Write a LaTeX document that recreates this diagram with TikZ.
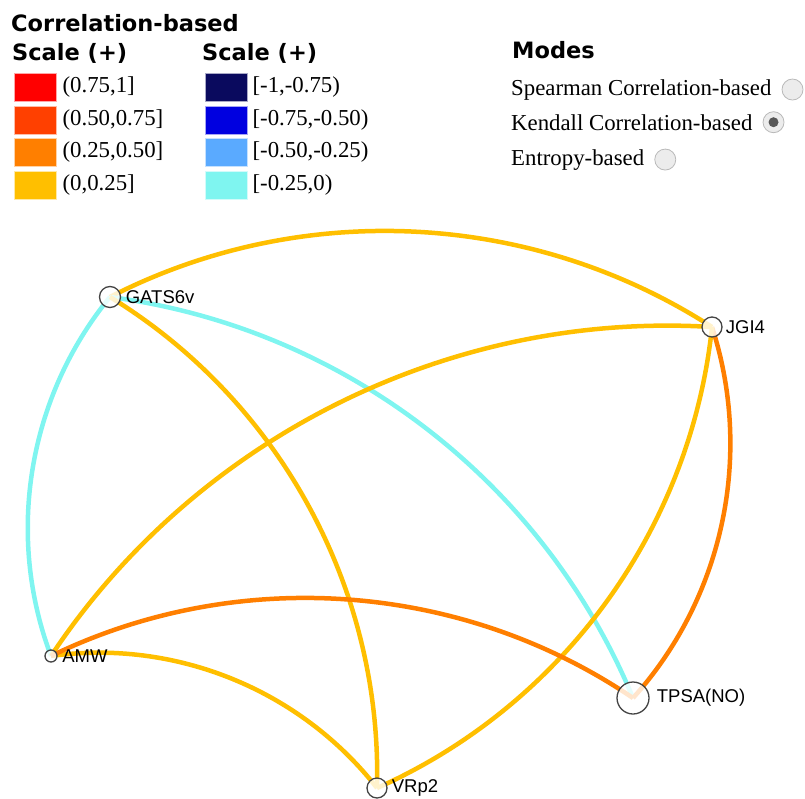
\documentclass[tikz,border=0pt]{standalone}
\usepackage{fontspec}
\setmainfont{Liberation Serif}
\newfontfamily\headfont{DejaVu Sans}
\newfontfamily\labelfont{Liberation Sans}
\usetikzlibrary{positioning,backgrounds}
\definecolor{PosTop}{RGB}{255,0,0}
\definecolor{PosHigh}{RGB}{255,64,0}
\definecolor{PosMid}{RGB}{255,127,0}
\definecolor{PosLow}{RGB}{255,191,0}
\definecolor{NegTop}{RGB}{10,10,94}
\definecolor{NegHigh}{RGB}{0,0,224}
\definecolor{NegMid}{RGB}{90,170,255}
\definecolor{NegLow}{RGB}{127,245,240}
\definecolor{RingGray}{RGB}{68,68,68}

\begin{document}
\begin{tikzpicture}[
    x=1pt, y=1pt,
    head/.style={font=\headfont\bfseries\fontsize{22.5}{23}\selectfont,
                 anchor=base west, inner sep=0pt},
    swatch/.style={rectangle, fill=#1, draw=#1!35, line width=0.8pt,
                   minimum width=42pt, minimum height=28pt, inner sep=0pt},
    key/.style={font=\fontsize{22.8}{24}\selectfont, inner sep=0pt},
    radio/.style={circle, draw=gray!55, fill=gray!15, line width=0.8pt,
                  minimum size=21pt, inner sep=0pt},
    vnode/.style={circle, draw=RingGray, line width=1.3pt, fill=white,
                  fill opacity=0.8, minimum size=#1, inner sep=0pt},
    vnode/.default=20pt,
    vlabel/.style={font=\labelfont\fontsize{18.5}{18}\selectfont, inner sep=0pt},
    link/.style={line width=4.5pt, draw=#1, looseness=0.91},
    link/.default=PosLow,
]
\useasboundingbox (0,0) rectangle (805,-798);

% ── Legend headings ──
\node[head] (title) at (11,-31) {Correlation-based};
\node[head] (scalepos) at (12,-60) {Scale (+)};
\node[head] (scaleneg) at (202,-60) {Scale (+)};
\node[head] (modes) at (512,-58) {Modes};

% ── Positive scale ──
\node[swatch=PosTop] (sp1) at (35,-87) {};
\node[swatch=PosHigh] (sp2) at (35,-120) {};
\node[swatch=PosMid] (sp3) at (35,-152.5) {};
\node[swatch=PosLow] (sp4) at (35,-185) {};
\node[key, right=6pt of sp1] (kp1) {(0.75,1]};
\node[key, right=6pt of sp2] (kp2) {(0.50,0.75]};
\node[key, right=6pt of sp3] (kp3) {(0.25,0.50]};
\node[key, right=6pt of sp4] (kp4) {(0,0.25]};

% ── Negative scale ──
\node[swatch=NegTop] (sn1) at (226,-87) {};
\node[swatch=NegHigh] (sn2) at (226,-120) {};
\node[swatch=NegMid] (sn3) at (226,-152.5) {};
\node[swatch=NegLow] (sn4) at (226,-185) {};
\node[key, right=5pt of sn1] (kn1) {[-1,-0.75)};
\node[key, right=5pt of sn2] (kn2) {[-0.75,-0.50)};
\node[key, right=5pt of sn3] (kn3) {[-0.50,-0.25)};
\node[key, right=5pt of sn4] (kn4) {[-0.25,0)};

% ── Modes ──
\node[key, anchor=base west] (spearman) at (511,-95) {Spearman Correlation-based};
\node[key, anchor=base west] (kendall) at (511,-130) {Kendall Correlation-based};
\node[key, anchor=base west] (entropy) at (511,-165) {Entropy-based};
\node[radio, right=10pt of spearman] (rspear) {};
\node[radio, right=10pt of kendall] (rkend) {};
\node[radio, right=10pt of entropy] (rentr) {};
\fill[RingGray!90] (rkend.center) circle (5);

% ── Variables ──
\node[vnode=21pt] (gats) at (110,-297) {};
\node[vnode] (jgi) at (712,-327) {};
\node[vnode=12pt] (amw) at (51,-656) {};
\node[vnode=32pt] (tpsa) at (633,-698) {};
\node[vnode] (vrp) at (377,-788) {};
\node[vlabel, right=4.5pt of gats] (gatslbl) {GATS6v};
\node[vlabel, right=3pt of jgi] (jgilbl) {JGI4};
\node[vlabel, right=4.5pt of amw] (amwlbl) {AMW};
\node[vlabel, right=7pt of tpsa] (tpsalbl) {TPSA(NO)};
\node[vlabel, right=4pt of vrp] (vrplbl) {VRp2};

% ── Correlation arcs ──
\begin{scope}[on background layer]
\draw[link] (gats.center) to[bend left=30] (jgi.center);
\draw[link=NegLow] (gats.center) to[bend right=30] (amw.center);
\draw[link=NegLow] (gats.center) to[bend left=30] (tpsa.center);
\draw[link] (gats.center) to[bend left=30] (vrp.center);
\draw[link] (jgi.center) to[bend right=30] (amw.center);
\draw[link=PosMid] (jgi.center) to[bend left=30] (tpsa.center);
\draw[link] (jgi.center) to[bend left=30] (vrp.center);
\draw[link] (amw.center) to[bend left=30] (vrp.center);
\draw[link=PosMid] (amw.center) to[bend left=30] (tpsa.center);
\end{scope}

\end{tikzpicture}
\end{document}
